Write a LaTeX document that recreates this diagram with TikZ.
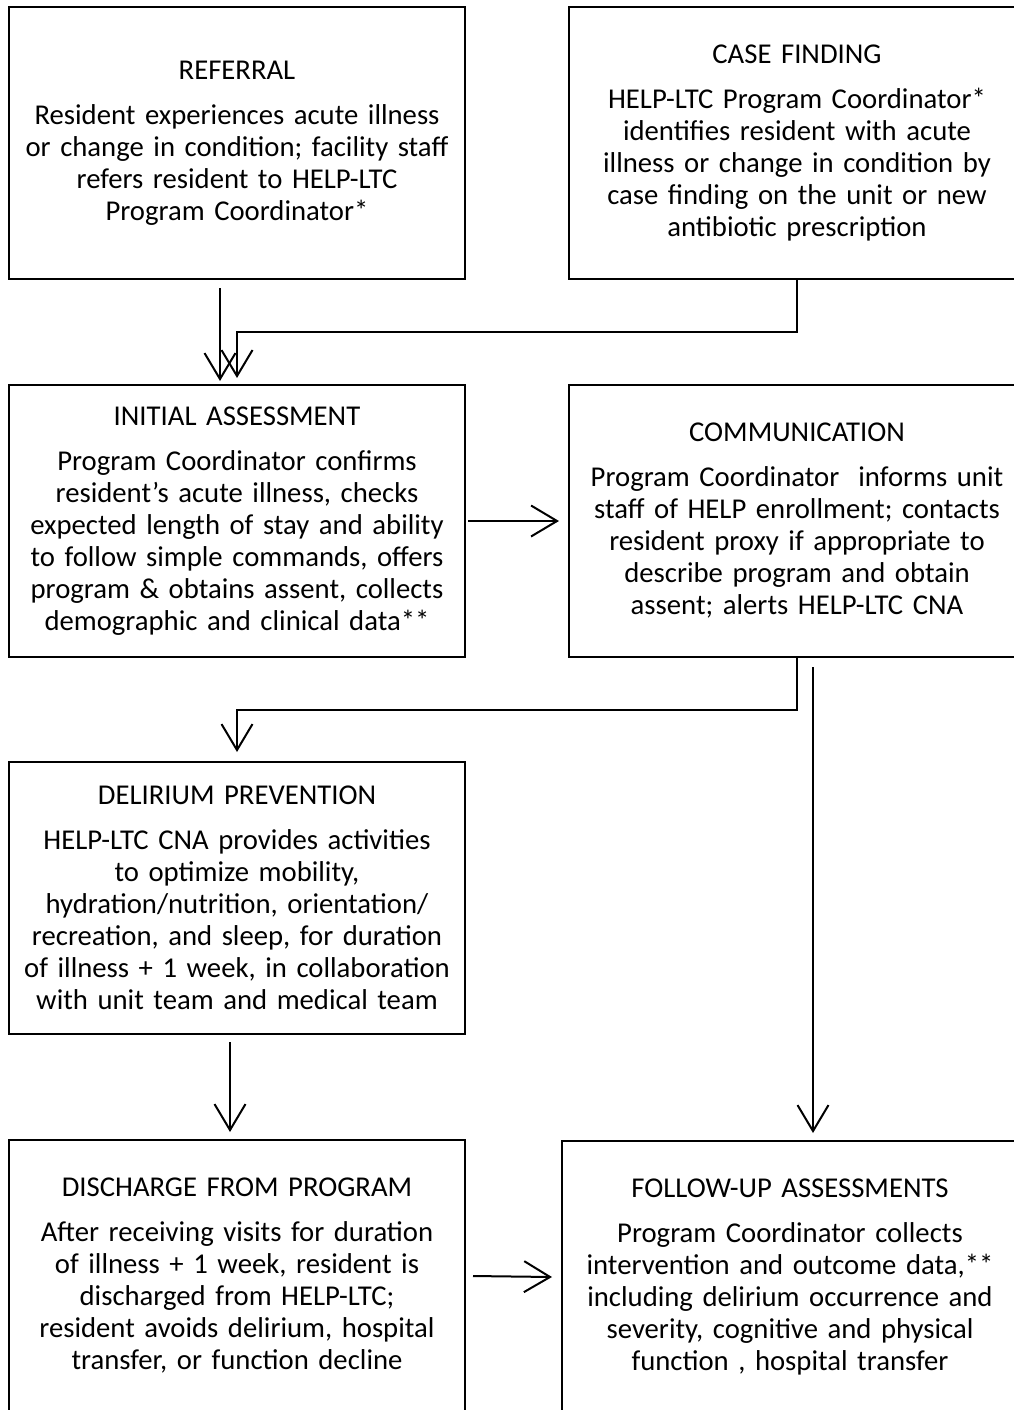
\documentclass[tikz,border=0pt]{standalone}
\usepackage{fontspec}
\setmainfont{Carlito}
\usetikzlibrary{arrows.meta}
\newcommand{\BoxTitle}[1]{#1\\[13pt]}
\begin{document}
\begin{tikzpicture}[x=1pt,y=-1pt,
	box/.style={draw, line width=2pt, text width=440pt, inner sep=8pt,
		minimum height=272pt, align=center, font=\fontsize{28.7}{32}\selectfont},
	arr/.style={line width=2pt, -{Straight Barb[length=26pt,width=31pt,line width=2pt]}}]
	\useasboundingbox (0,0) rectangle (1014,1410);

	\node[box] (referral) at (237,143) {\BoxTitle{REFERRAL}
		Resident experiences acute illness\\
		or change in condition; facility staff\\
		refers resident to HELP-LTC\\
		Program Coordinator*};
	\node[box] (case) at (797,143) {\BoxTitle{CASE FINDING}
		HELP-LTC Program Coordinator*\\
		identifies resident with acute\\
		illness or change in condition by\\
		case finding on the unit or new\\
		antibiotic prescription};
	\node[box] (initial) at (237,521) {\BoxTitle{INITIAL ASSESSMENT}
		Program Coordinator confirms\\
		resident's acute illness, checks\\
		expected length of stay and ability\\
		to follow simple commands, offers\\
		program \& obtains assent, collects\\
		demographic and clinical data**};
	\node[box] (comm) at (797,521) {\BoxTitle{COMMUNICATION}
		Program Coordinator~ informs unit\\
		staff of HELP enrollment; contacts\\
		resident proxy if appropriate to\\
		describe program and obtain\\
		assent; alerts HELP-LTC CNA};
	\node[box] (delirium) at (237,898) {\BoxTitle{DELIRIUM PREVENTION}
		HELP-LTC CNA provides activities\\
		to optimize mobility,\\
		hydration/nutrition, orientation/\\
		recreation, and sleep, for duration\\
		of illness + 1 week, in collaboration\\
		with unit team and medical team};
	\node[box] (discharge) at (237,1276) {\BoxTitle{DISCHARGE FROM PROGRAM}
		After receiving visits for duration\\
		of illness + 1 week, resident is\\
		discharged from HELP-LTC;\\
		resident avoids delirium, hospital\\
		transfer, or function decline};
	\node[box] (follow) at (790,1277) {\BoxTitle{FOLLOW-UP ASSESSMENTS}
		Program Coordinator collects\\
		intervention and outcome data,**\\
		including delirium occurrence and\\
		severity, cognitive and physical\\
		function , hospital transfer};

	% connectors
	\draw[arr] ([xshift=-17pt,yshift=-8pt]referral.south) -- ([xshift=-17pt,yshift=3pt]initial.north);
	\draw[arr] (case.south) -- ++(0,52) -| ([yshift=6pt]initial.north);
	\draw[arr] ([xshift=2pt]initial.east) -- ([xshift=-9pt]comm.west);
	\draw[arr] (comm.south) -- ++(0,52) -| ([yshift=9pt]delirium.north);
	\draw[arr] ([xshift=16pt,yshift=-9pt]comm.south) coordinate (c1) -- ([yshift=7pt]c1 |- follow.north);
	\draw[arr] ([xshift=-7pt,yshift=-7pt]delirium.south) -- ([xshift=-7pt,yshift=7pt]discharge.north);
	\draw[arr] ([xshift=7pt]discharge.east) -- ([xshift=-9pt]follow.west);
\end{tikzpicture}
\end{document}
